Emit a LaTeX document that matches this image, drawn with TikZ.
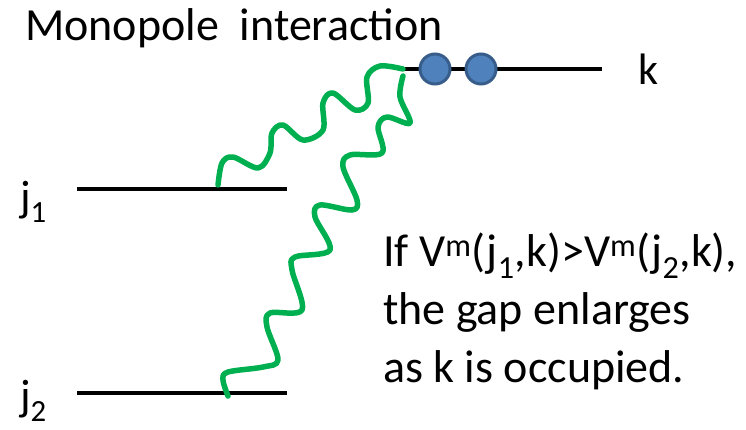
\documentclass[tikz,border=0pt]{standalone}
\usepackage{fontspec}
\setmainfont{Carlito}
\usetikzlibrary{arrows,shapes}
\definecolor{wavegreen}{RGB}{0,176,80}
\definecolor{dotblue}{RGB}{79,129,189}
\definecolor{dotedge}{RGB}{56,93,138}

\begin{document}
\begin{tikzpicture}[x=1pt,y=-1pt,
  level/.style={line width=4.5pt},
  wave/.style={wavegreen,line width=5.5pt,line cap=round,line join=round},
  occ/.style={circle,fill=dotblue,draw=dotedge,line width=3pt,minimum size=30pt,inner sep=0pt},
  lab/.style={font=\fontsize{44}{56}\selectfont,inner sep=0pt},
  big/.style={font=\fontsize{46}{58}\selectfont,inner sep=0pt}]
\useasboundingbox (0,0) rectangle (746,429);
\node[big,anchor=base west](title) at (25,40){Monopole\ \ interaction};
\coordinate (j1a) at (77,189); \coordinate (j1b) at (287,189);
\coordinate (j2a) at (77,393); \coordinate (j2b) at (287,393);
\coordinate (ka) at (401,69); \coordinate (kb) at (602,69);
\draw[level] (j1a)--(j1b) (j2a)--(j2b) (ka)--(kb);
\node[lab,anchor=base west](j1) at (20,211){j\textsubscript{1}};
\node[lab,anchor=base west](j2) at (20,410){j\textsubscript{2}};
\node[lab,anchor=base west](k) at (638,84){k};
% wavy lines from the two levels to k
\coordinate (w1) at (218,185); \coordinate (w1k) at (403,69);
\coordinate (w2) at (228,396); \coordinate (w2k) at (403,76);
\draw[wave] plot[smooth,tension=0.55] coordinates {(w1) (222,163) (233,157) (258,168) (270,153)
  (272,133) (283,125) (303,140) (323,130) (323,103) (333,93) (355,110) (368,103)
  (367,77) (380,66) (w1k)};
\draw[wave] plot[smooth,tension=0.55] coordinates {(w2) (223,380) (228,372) (263,367) (278,360)
  (267,327) (270,313) (302,310) (292,270) (295,257) (330,250) (315,217) (320,205)
  (352,210) (357,200) (343,167) (350,155) (382,153) (378,127) (387,117) (410,123)
  (400,97) (w2k)};
\node[occ](o1) at (435,69){};
\node[occ](o2) at (481,69){};
\node[big,anchor=base west,align=left](rule) at (383,382)
  {If V\textsuperscript{m}(j\textsubscript{1},k)>V\textsuperscript{m}(j\textsubscript{2},k),\\
   the gap enlarges\\as k is occupied.};
\end{tikzpicture}
\end{document}
